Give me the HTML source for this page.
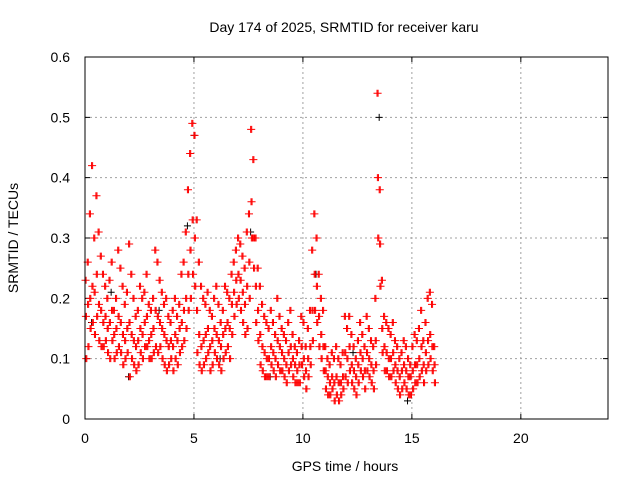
<!DOCTYPE html>
<html><head><meta charset="utf-8"><style>
html,body{margin:0;padding:0;background:#fff;}
svg{display:block;font-family:"Liberation Sans",sans-serif;}
</style></head><body>
<svg id="chart" width="640" height="480" viewBox="0 0 640 480">
<text x="344" y="32" font-size="14" text-anchor="middle" fill="#000">Day 174 of 2025, SRMTID for receiver karu</text>
<text x="345" y="471" font-size="14" text-anchor="middle" fill="#000">GPS time / hours</text>
<text transform="translate(18,238) rotate(-90)" font-size="14" text-anchor="middle" fill="#000">SRMTID / TECUs</text>
<g id="grid"></g>
<g id="ticks"></g>
<g id="marks"></g>
<rect x="85" y="57" width="523" height="362" fill="none" stroke="#000" stroke-width="1"/>
</svg>
<script>
const xTicks=[0,5,10,15,20];
const xTickLabels=["0","5","10","15","20"];
const yTicks=[0,0.1,0.2,0.3,0.4,0.5,0.6];
const yTickLabels=["0","0.1","0.2","0.3","0.4","0.5","0.6"];
const seriesHi=[.23,.26,.34,.42,.30,.37,.31,.27,.24,.22,
.20,.23,.26,.18,.20,.28,.25,.22,.19,.21,
.29,.24,.20,.17,.18,.22,.20,.21,.24,.19,
.18,.20,.28,.26,.23,.21,.19,.20,.17,.16,
.18,.20,.17,.19,.24,.26,.31,.38,.44,.49,
.47,.33,.26,.22,.20,.19,.21,.18,.17,.20,
.22,.19,.16,.18,.22,.21,.20,.24,.26,.28,
.30,.29,.27,.25,.31,.34,.48,.43,.30,.25,
.22,.19,.17,.16,.15,.18,.16,.14,.20,.17,
.15,.14,.13,.16,.18,.14,.12,.11,.13,.17,
.16,.12,.15,.18,.28,.34,.30,.24,.20,.18,
.12,.10,.09,.11,.10,.12,.10,.09,.11,.17,
.15,.17,.14,.12,.10,.13,.16,.14,.12,.17,
.15,.13,.12,.20,.54,.38,.23,.17,.16,.15,
.14,.16,.13,.12,.10,.11,.13,.12,.10,.09,
.12,.14,.13,.15,.18,.13,.16,.20,.21,.19,.12];
const seriesMid=[.17,.19,.20,.22,.21,.24,.19,.18,.16,.17,
.15,.16,.18,.14,.15,.17,.16,.14,.13,.15,
.16,.14,.13,.12,.13,.15,.14,.16,.17,.13,
.14,.15,.18,.17,.16,.15,.14,.13,.12,.13,
.12,.14,.13,.15,.16,.18,.20,.24,.28,.33,
.30,.18,.14,.12,.13,.14,.15,.12,.13,.15,
.14,.13,.12,.14,.15,.16,.15,.19,.21,.23,
.24,.23,.21,.19,.22,.26,.36,.30,.22,.18,
.14,.12,.11,.10,.10,.12,.11,.10,.13,.12,
.11,.10,.09,.11,.12,.10,.09,.08,.09,.12,
.10,.08,.10,.12,.18,.24,.22,.17,.14,.12,
.08,.07,.06,.07,.06,.07,.06,.06,.07,.11,
.10,.12,.09,.08,.07,.09,.11,.10,.08,.11,
.10,.09,.08,.13,.40,.29,.15,.12,.11,.10,
.10,.11,.09,.08,.07,.08,.09,.08,.07,.07,
.08,.09,.09,.10,.12,.09,.11,.13,.14,.12,.09];
const seriesLo=[.10,.12,.15,.16,.14,.17,.13,.12,.12,.13,
.11,.10,.13,.10,.11,.12,.11,.09,.10,.11,
.07,.10,.09,.08,.09,.11,.10,.12,.12,.10,
.10,.11,.12,.11,.12,.10,.09,.08,.09,.10,
.08,.10,.09,.11,.12,.13,.15,.18,.20,.24,
.22,.11,.09,.08,.09,.10,.11,.08,.09,.11,
.10,.09,.08,.10,.11,.12,.10,.14,.17,.19,
.20,.18,.16,.14,.15,.20,.30,.25,.16,.13,
.09,.08,.07,.07,.07,.09,.08,.07,.09,.08,
.08,.07,.06,.08,.09,.07,.06,.06,.06,.09,
.07,.05,.07,.09,.13,.18,.16,.12,.10,.08,
.05,.04,.04,.05,.03,.04,.03,.04,.05,.07,
.06,.08,.06,.05,.04,.06,.08,.07,.05,.08,
.07,.06,.05,.09,.30,.22,.11,.08,.08,.07,
.07,.08,.06,.05,.04,.05,.06,.05,.04,.04,
.05,.06,.06,.07,.08,.06,.08,.09,.10,.08,.06];
const blackTimes=[0.3,1.2,2.0,3.4,4.7,5.0,6.2,7.6,8.5,10.6,12.3,13.5,14.8];
const blackValues=[0.16,0.21,0.07,0.18,0.32,0.47,0.10,0.31,0.07,0.24,0.11,0.50,0.03];

const X0=85,X1=608,Y0=419,Y1=57;
const xs=t=>X0+t/24*(X1-X0);
const ys=v=>Y0-v/0.6*(Y0-Y1);
const NS="http://www.w3.org/2000/svg";
const grid=document.getElementById('grid'),ticks=document.getElementById('ticks'),marks=document.getElementById('marks');
function mk(tag,attrs,parent){const e=document.createElementNS(NS,tag);for(const k in attrs)e.setAttribute(k,attrs[k]);parent.appendChild(e);return e;}
xTicks.forEach((t,i)=>{const x=xs(t);
 if(t>0){const g=mk('line',{x1:x,x2:x,y1:Y0,y2:Y1,stroke:'#a0a0a0','stroke-dasharray':'2,3'},grid);
 
 }
 const tk=mk('path',{d:`M${x},${Y0}v-5M${x},${Y1}v5`,stroke:'#000'},ticks);
 
 
 const l=mk('text',{x:x,y:Y0+24,'font-size':14,'text-anchor':'middle'},ticks);l.textContent=xTickLabels[i];
 
 });
yTicks.forEach((v,i)=>{const y=ys(v);
 if(v>0&&v<0.6){const g=mk('line',{x1:X0,x2:X1,y1:y,y2:y,stroke:'#a0a0a0','stroke-dasharray':'2,3'},grid);
 
 }
 const tk=mk('path',{d:`M${X0},${y}h5M${X1},${y}h-5`,stroke:'#000'},ticks);
 
 
 const l=mk('text',{x:70,y:y+5,'font-size':14,'text-anchor':'end'},ticks);l.textContent=yTickLabels[i];
 
 });
function cross(t,v){const x=xs(t),y=ys(v);return `M${x-3.5},${y}h7M${x},${y-3.5}v7`;}
let db='';blackTimes.forEach((t,i)=>{db+=cross(t,blackValues[i]);});
const pb=mk('path',{d:db,stroke:'#000','stroke-width':1,fill:'none'},marks);


let dr='';
[[seriesHi,0],[seriesMid,0.017],[seriesLo,0.033],[seriesHi,0.05],[seriesMid,0.067],[seriesLo,0.083]].forEach(([arr,off])=>{arr.forEach((v,i)=>{dr+=cross(i*0.1+off,v);});});
const pr=mk('path',{d:dr,stroke:'#ff0000','stroke-width':1,fill:'none'},marks);


</script>
</body></html>
